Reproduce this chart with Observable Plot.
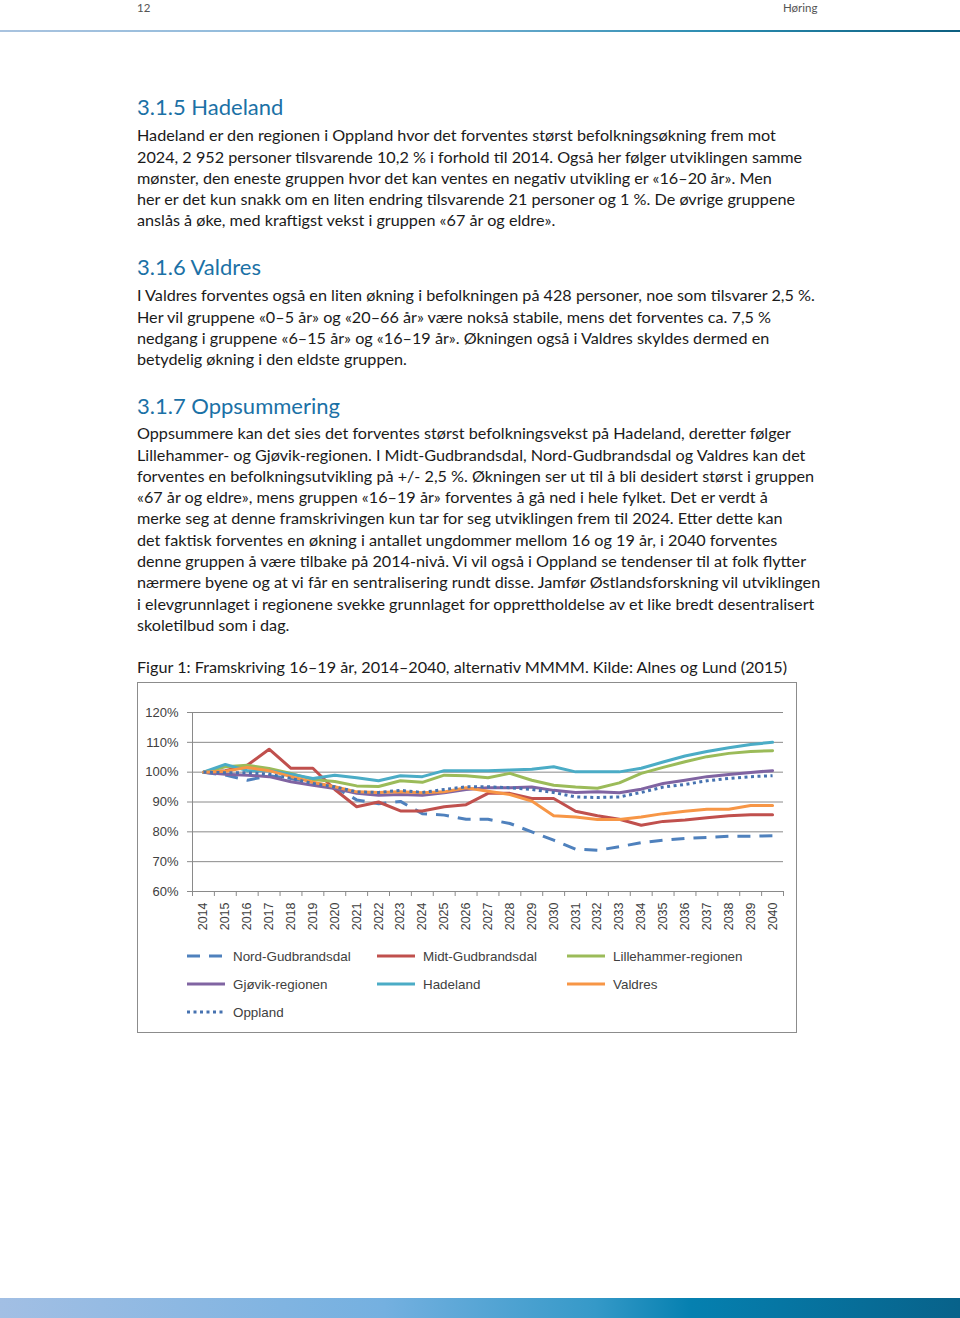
<!DOCTYPE html>
<html><head><meta charset="utf-8">
<script src="https://cdn.jsdelivr.net/npm/d3@7"></script>
<script src="https://cdn.jsdelivr.net/npm/@observablehq/plot@0.6"></script>
<style>
html,body{margin:0;padding:0;background:#fff}
#page{position:relative;width:960px;height:1318px;overflow:hidden;font-family:Lato,"Noto Sans",sans-serif;color:#1a1a1a}
.hdr{position:absolute;font-size:11.5px;color:#555;top:2px;line-height:12px}
.topline{position:absolute;left:0;top:30px;width:960px;height:2px;background:linear-gradient(90deg,#a9c3df,#86b8da 40%,#2a8cb0 75%,#0d5f80)}
.foot{position:absolute;left:0;top:1298px;width:960px;height:20px;background:linear-gradient(90deg,#a2bfe4,#74b0e0 40%,#3599c8 62%,#0580b0 72%,#08628a)}
h2{position:absolute;left:137px;margin:0;font-weight:400;font-size:22px;color:#1b71a6;line-height:26px}
.p{position:absolute;left:137px;font-size:16.2px;line-height:21.3px;white-space:pre}
#box{position:absolute;left:137px;top:682px;width:658px;height:349px;border:1px solid #8c8c8c;background:#fff}
#chart{position:absolute;left:0;top:0}
.lg{position:absolute;font-family:"Liberation Sans",Arial,sans-serif;font-size:13.4px;color:#404040;display:flex;align-items:center;height:20px}
.lg svg{margin-right:8px}
</style></head>
<body><div id="page">
<div class="hdr" style="left:137px">12</div>
<div class="hdr" style="left:783px">Høring</div>
<div class="topline"></div>

<h2 style="top:94px">3.1.5 Hadeland</h2>
<div class="p" style="top:124.3px">Hadeland er den regionen i Oppland hvor det forventes størst befolkningsøkning frem mot
2024, 2 952 personer tilsvarende 10,2 % i forhold til 2014. Også her følger utviklingen samme
mønster, den eneste gruppen hvor det kan ventes en negativ utvikling er «16–20 år». Men
her er det kun snakk om en liten endring tilsvarende 21 personer og 1 %. De øvrige gruppene
anslås å øke, med kraftigst vekst i gruppen «67 år og eldre».</div>

<h2 style="top:254px">3.1.6 Valdres</h2>
<div class="p" style="top:284.3px">I Valdres forventes også en liten økning i befolkningen på 428 personer, noe som tilsvarer 2,5 %.
Her vil gruppene «0–5 år» og «20–66 år» være nokså stabile, mens det forventes ca. 7,5 %
nedgang i gruppene «6–15 år» og «16–19 år». Økningen også i Valdres skyldes dermed en
betydelig økning i den eldste gruppen.</div>

<h2 style="top:393px">3.1.7 Oppsummering</h2>
<div class="p" style="top:422.3px">Oppsummere kan det sies det forventes størst befolkningsvekst på Hadeland, deretter følger
Lillehammer- og Gjøvik-regionen. I Midt-Gudbrandsdal, Nord-Gudbrandsdal og Valdres kan det
forventes en befolkningsutvikling på +/- 2,5 %. Økningen ser ut til å bli desidert størst i gruppen
«67 år og eldre», mens gruppen «16–19 år» forventes å gå ned i hele fylket. Det er verdt å
merke seg at denne framskrivingen kun tar for seg utviklingen frem til 2024. Etter dette kan
det faktisk forventes en økning i antallet ungdommer mellom 16 og 19 år, i 2040 forventes
denne gruppen å være tilbake på 2014-nivå. Vi vil også i Oppland se tendenser til at folk flytter
nærmere byene og at vi får en sentralisering rundt disse. Jamfør Østlandsforskning vil utviklingen
i elevgrunnlaget i regionene svekke grunnlaget for opprettholdelse av et like bredt desentralisert
skoletilbud som i dag.</div>

<div class="p" style="top:656.3px">Figur 1: Framskriving 16–19 år, 2014–2040, alternativ MMMM. Kilde: Alnes og Lund (2015)</div>

<div id="box"><div id="chart"></div></div>

<div class="foot"></div>
</div>
<script>
const years = [2014,2015,2016,2017,2018,2019,2020,2021,2022,2023,2024,2025,2026,2027,2028,2029,2030,2031,2032,2033,2034,2035,2036,2037,2038,2039,2040];
const yTicks = [60,70,80,90,100,110,120];
const seriesNames = ["Nord-Gudbrandsdal","Midt-Gudbrandsdal","Lillehammer-regionen","Gjøvik-regionen","Hadeland","Valdres","Oppland"];
const seriesColors = ["#4f81bd","#c0504d","#9bbb59","#8064a2","#4bacc6","#f79646","#4672b0"];
const seriesDash = ["13,9",null,null,null,null,null,"3,3.5"];
const nord     = [100,99,97.3,98.8,97.9,96.5,95,90.7,89.4,90.2,86.1,85.6,84.2,84.2,82.8,80,77.2,74.2,73.8,75,76.4,77.2,77.8,78.1,78.5,78.5,78.7];
const midt     = [100,100.5,102.3,107.7,101.3,101.3,94.2,88.4,90,87,87,88.4,89.1,92.9,92.9,91.2,91.2,86.9,85.4,84.2,82.2,83.5,84,84.7,85.4,85.7,85.7];
const lille    = [100,101.8,102.3,101.2,99.6,97.5,96.9,95.4,95.2,97.1,96.6,99,98.8,98.1,99.6,97.3,95.6,95,94.6,96.4,99.6,101.6,103.5,105.2,106.3,106.9,107.2];
const gjovik   = [100,99.3,99,98.5,96.8,95.6,94.5,92.9,92.3,92.5,92.3,93.1,94.2,94.8,94.8,95,93.9,93.2,93.4,93.1,94.3,96.2,97.3,98.5,99.2,99.9,100.5];
const hadeland = [100,102.6,100.5,100.5,99.3,97.9,99,98.1,97.1,98.8,98.5,100.5,100.5,100.5,100.7,101,101.8,100.1,100.1,100.1,101.3,103.4,105.4,106.9,108.2,109.3,110];
const valdres  = [100,100.3,101.6,100.5,98.5,96.6,95.1,93.4,93.2,93.4,93.1,93.4,94.8,93.6,92.5,90.3,85.4,85,84.1,84.1,85,86.1,86.9,87.6,87.6,88.8,88.8];
const oppland  = [100,99.8,99.8,99.3,97.9,96.2,95.1,93.4,93.2,93.9,93.2,94.2,95.1,95.1,94.8,94.2,93.2,91.7,91.5,91.7,93.2,95,95.9,97.1,97.9,98.5,98.8];
const seriesValues = [nord,midt,lille,gjovik,hadeland,valdres,oppland];

const boundaries = [years[0]-0.5, ...years.map(y => y + 0.5)];
const gray = "#8a8a8a";

const lineMarks = seriesNames.map((name, si) =>
  Plot.line(years.map((y, i) => ({year: y, value: seriesValues[si][i]})), {
    x: "year", y: "value", stroke: seriesColors[si], strokeWidth: 3,
    strokeDasharray: seriesDash[si] || undefined, strokeLinejoin: "round",
    strokeLinecap: seriesDash[si] ? "butt" : "round"
  })
);

const chart = Plot.plot({
  width: 658, height: 253,
  marginLeft: 54, marginRight: 13, marginTop: 29, marginBottom: 45,
  style: {fontFamily: '"Liberation Sans", Arial, sans-serif', background: "transparent"},
  x: {domain: [boundaries[0], boundaries[boundaries.length - 1]]},
  y: {domain: [60, 120]},
  marks: [
    Plot.gridY(yTicks, {stroke: gray, strokeOpacity: 1, strokeWidth: 1}),
    Plot.ruleX([boundaries[0]], {stroke: gray}),
    Plot.axisY({ticks: yTicks, tickFormat: d => d + "%", tickSize: 5, tickPadding: 9, fontSize: 13, stroke: gray, fill: "#404040", label: null}),
    Plot.axisX({ticks: boundaries, tickSize: 5, tickFormat: () => "", stroke: gray, label: null}),
    Plot.axisX({ticks: years, tickSize: 0, tickPadding: 11, tickRotate: -90, tickFormat: d => String(d), fontSize: 12.5, fill: "#404040", label: null}),
    ...lineMarks
  ]
});
document.getElementById("chart").appendChild(chart);

// legend
const box = document.getElementById("box");
const legendLayout = [[49, 273], [239, 273], [429, 273], [49, 301], [239, 301], [429, 301], [49, 329]];
seriesNames.forEach((name, si) => {
  const [lx, ly] = legendLayout[si];
  const div = document.createElement("div");
  div.className = "lg";
  div.style.left = lx + "px";
  div.style.top = (ly - 10) + "px";
  const dash = seriesDash[si] ? `stroke-dasharray="${seriesDash[si]}"` : "";
  div.innerHTML = `<svg width="38" height="6"><line x1="0" x2="38" y1="3" y2="3" stroke="${seriesColors[si]}" stroke-width="3" ${dash}/></svg><span>${name}</span>`;
  box.appendChild(div);
});
</script>
</body></html>
